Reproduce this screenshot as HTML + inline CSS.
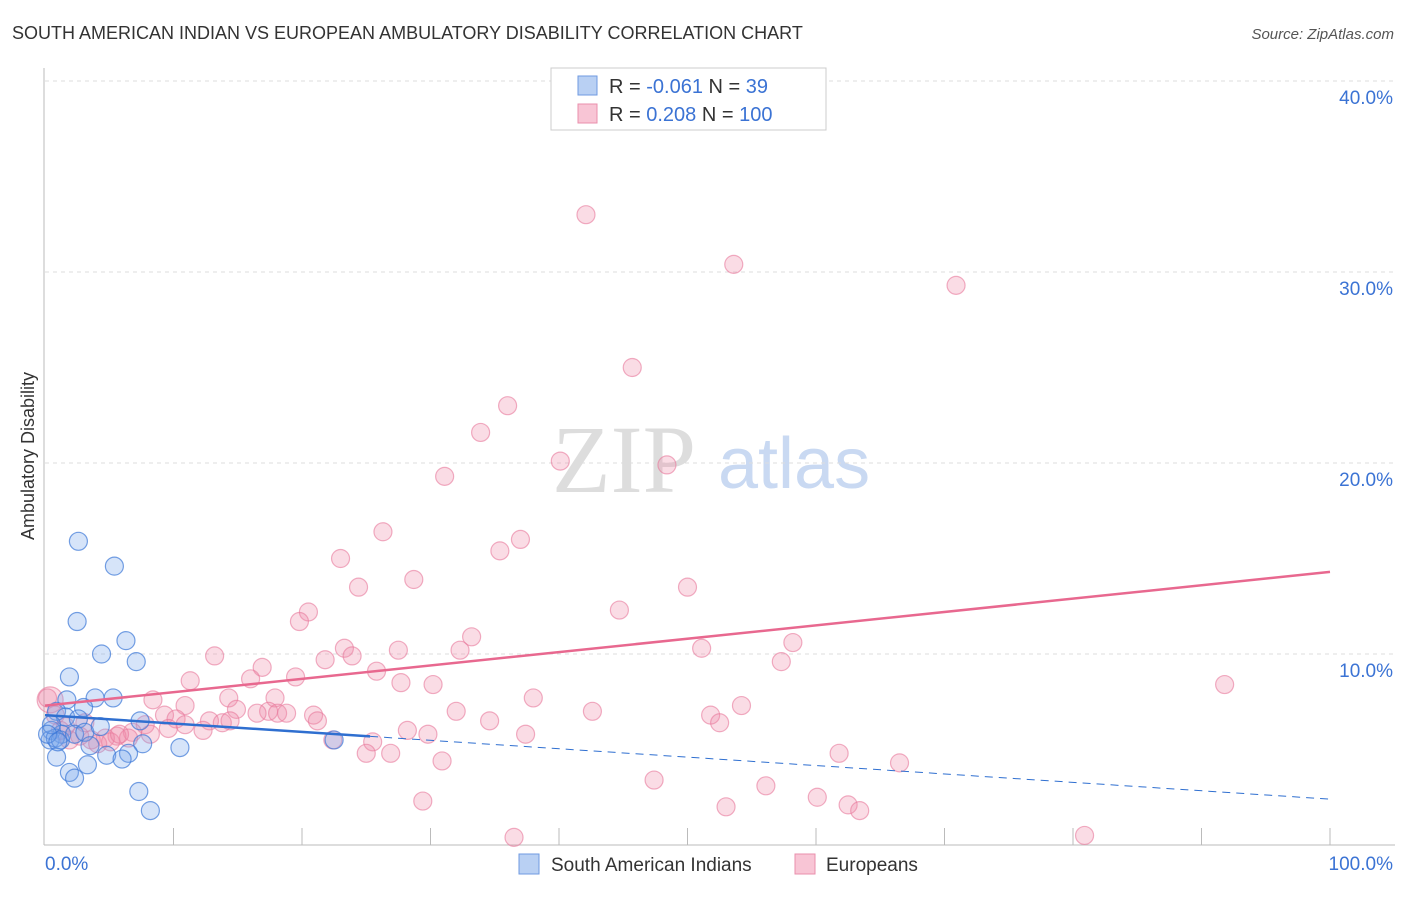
<!DOCTYPE html>
<html><head><meta charset="utf-8"><style>
body{margin:0;background:#fff;font-family:"Liberation Sans",sans-serif;}
</style></head><body>
<svg id="chart" width="1406" height="892" xmlns="http://www.w3.org/2000/svg" font-family="Liberation Sans, sans-serif">
<text x="12" y="39" font-size="18" fill="#333">SOUTH AMERICAN INDIAN VS EUROPEAN AMBULATORY DISABILITY CORRELATION CHART</text>
<text x="1394" y="39" font-size="15" fill="#555" font-style="italic" text-anchor="end">Source: ZipAtlas.com</text>
<g>
<text x="552" y="492" font-size="96" font-family="Liberation Serif, serif" fill="#ddd">ZIP</text>
<text x="718" y="488" font-size="72" fill="#c9d9f2">atlas</text>
</g>
<text transform="translate(34,456) rotate(-90)" font-size="18" fill="#333" text-anchor="middle">Ambulatory Disability</text>
<g id="grid"></g>
<g id="axes"></g>
<g id="marks"></g>
<g>
<rect x="551" y="68" width="275" height="62" fill="#fff" stroke="#ccc"/>
<rect x="578" y="76" width="19" height="19" fill="#b9d0f3" stroke="#6f9ae0"/>
<rect x="578" y="104" width="19" height="19" fill="#f8c5d5" stroke="#ea8fac"/>
<text x="609" y="93" font-size="20" fill="#333">R = <tspan fill="#3b73d4">-0.061</tspan>   N =  <tspan fill="#3b73d4">  39</tspan></text>
<text x="609" y="121" font-size="20" fill="#333">R =  <tspan fill="#3b73d4">0.208</tspan>   N = <tspan fill="#3b73d4">100</tspan></text>
</g>
<g>
<rect x="519" y="854" width="20" height="20" fill="#b9d0f3" stroke="#6f9ae0"/>
<text x="551" y="871" font-size="19" fill="#333">South American Indians</text>
<rect x="795" y="854" width="20" height="20" fill="#f8c5d5" stroke="#ea8fac"/>
<text x="826" y="871" font-size="19" fill="#333">Europeans</text>
</g>
</svg>
<script>
const yTicks=[10,20,30,40];
const yTickLabels=["10.0%","20.0%","30.0%","40.0%"];
const xTickLabels=["0.0%","100.0%"];
const blueX=[2.6,5.4,2.5,6.3,4.4,7.1,1.9,3.9,5.3,3.0,1.7,0.9,1.6,2.6,0.5,1.3,0.4,0.8,1.2,2.3,3.1,7.4,7.6,10.5,6.5,4.8,3.3,6.0,0.9,1.9,2.3,7.3,8.2,22.5,0.5,0.2,1.0,4.3,3.5];
const blueY=[15.9,14.6,11.7,10.7,10.0,9.6,8.8,7.7,7.7,7.2,7.6,7.0,6.7,6.6,6.0,5.8,5.5,5.6,5.5,5.8,5.9,6.5,5.3,5.1,4.8,4.7,4.2,4.5,4.6,3.8,3.5,2.8,1.8,5.5,6.3,5.8,5.4,6.2,5.2];
const pinkX=[42.1,53.6,70.9,45.7,36.0,33.9,40.1,48.4,31.1,26.3,37.0,35.4,23.0,28.7,24.4,50.0,44.7,20.5,19.8,33.2,58.2,23.3,32.3,23.9,51.1,27.5,13.2,21.8,57.3,16.9,25.8,19.5,16.0,27.7,30.2,11.3,91.8,8.4,17.9,38.0,14.3,54.2,10.9,14.9,32.0,42.6,17.4,18.1,16.5,18.8,20.9,51.8,52.5,9.3,34.6,10.2,21.2,12.8,13.8,7.8,12.3,28.2,37.4,29.8,9.6,6.8,5.6,6.5,4.7,3.6,4.1,5.1,2.7,1.9,1.2,0.4,0.8,3.1,1.6,5.8,22.4,25.5,25.0,26.9,61.8,30.9,66.5,47.4,56.1,60.1,29.4,53.0,62.5,63.4,36.5,80.9,8.2,10.9,14.4,0.2];
const pinkY=[33.0,30.4,29.3,25.0,23.0,21.6,20.1,19.9,19.3,16.4,16.0,15.4,15.0,13.9,13.5,13.5,12.3,12.2,11.7,10.9,10.6,10.3,10.2,9.9,10.3,10.2,9.9,9.7,9.6,9.3,9.1,8.8,8.7,8.5,8.4,8.6,8.4,7.6,7.7,7.7,7.7,7.3,7.3,7.1,7.0,7.0,7.0,6.9,6.9,6.9,6.8,6.8,6.4,6.8,6.5,6.6,6.5,6.5,6.4,6.3,6.0,6.0,5.8,5.8,6.1,5.9,5.7,5.6,5.6,5.5,5.3,5.4,5.7,5.5,6.0,7.6,6.8,6.4,6.2,5.8,5.5,5.4,4.8,4.8,4.8,4.4,4.3,3.4,3.1,2.5,2.3,2.0,2.1,1.8,0.4,0.5,5.8,6.3,6.5,7.7];
const pinkTrend=[7.3,14.3];   // values at x=0 and x=100
const blueTrend=[6.8,2.4];    // values at x=0 and x=100
const blueSolidEnd=25.3;
const X=v=>45+v*12.85, Y=v=>845-v*19.1;
const NS="http://www.w3.org/2000/svg";
function mk(parent,tag,attrs){const e=document.createElementNS(NS,tag);for(const k in attrs)e.setAttribute(k,attrs[k]);document.getElementById(parent).appendChild(e);return e;}
yTicks.forEach((t,i)=>{
 const l=mk('grid','line',{x1:45,x2:1395,y1:Y(t),y2:Y(t),stroke:'#ddd','stroke-dasharray':'4,4'});
 
 
 const tx=mk('axes','text',{x:1393,y:Y(t)+23,'font-size':19,fill:'#3b73d4','text-anchor':'end'});
 tx.textContent=yTickLabels[i];
 
 
});
let a=mk('axes','line',{x1:44,x2:44,y1:68,y2:845,stroke:'#bbb'});


a=mk('axes','line',{x1:44,x2:1395,y1:845,y2:845,stroke:'#bbb'});


for(let i=1;i<=10;i++){const t=mk('axes','line',{x1:X(i*10),x2:X(i*10),y1:828,y2:845,stroke:'#bbb'});
 
 }
let xl=mk('axes','text',{x:45,y:870,'font-size':19,fill:'#3b73d4'});xl.textContent=xTickLabels[0];


xl=mk('axes','text',{x:1393,y:870,'font-size':19,fill:'#3b73d4','text-anchor':'end'});xl.textContent=xTickLabels[1];


pinkX.forEach((x,i)=>{const c=mk('marks','circle',{cx:X(x),cy:Y(pinkY[i]),r:(i===75?13:9),fill:'rgba(240,140,170,0.3)',stroke:'rgba(232,120,155,0.6)','stroke-width':1.2});
 
 });
blueX.forEach((x,i)=>{const c=mk('marks','circle',{cx:X(x),cy:Y(blueY[i]),r:9,fill:'rgba(120,165,235,0.3)',stroke:'rgba(60,120,215,0.7)','stroke-width':1.2});
 
 });
const bAt=x=>blueTrend[0]+(blueTrend[1]-blueTrend[0])*x/100;
let tl=mk('marks','line',{x1:X(0),y1:Y(pinkTrend[0]),x2:X(100),y2:Y(pinkTrend[1]),stroke:'#e8688f','stroke-width':2.5});


tl=mk('marks','line',{x1:X(0),y1:Y(bAt(0)),x2:X(blueSolidEnd),y2:Y(bAt(blueSolidEnd)),stroke:'#2f6fd0','stroke-width':2.5});


tl=mk('marks','line',{x1:X(blueSolidEnd),y1:Y(bAt(blueSolidEnd)),x2:X(100),y2:Y(bAt(100)),stroke:'#2f6fd0','stroke-width':1,'stroke-dasharray':'8,6'});


</script>
</body></html>
